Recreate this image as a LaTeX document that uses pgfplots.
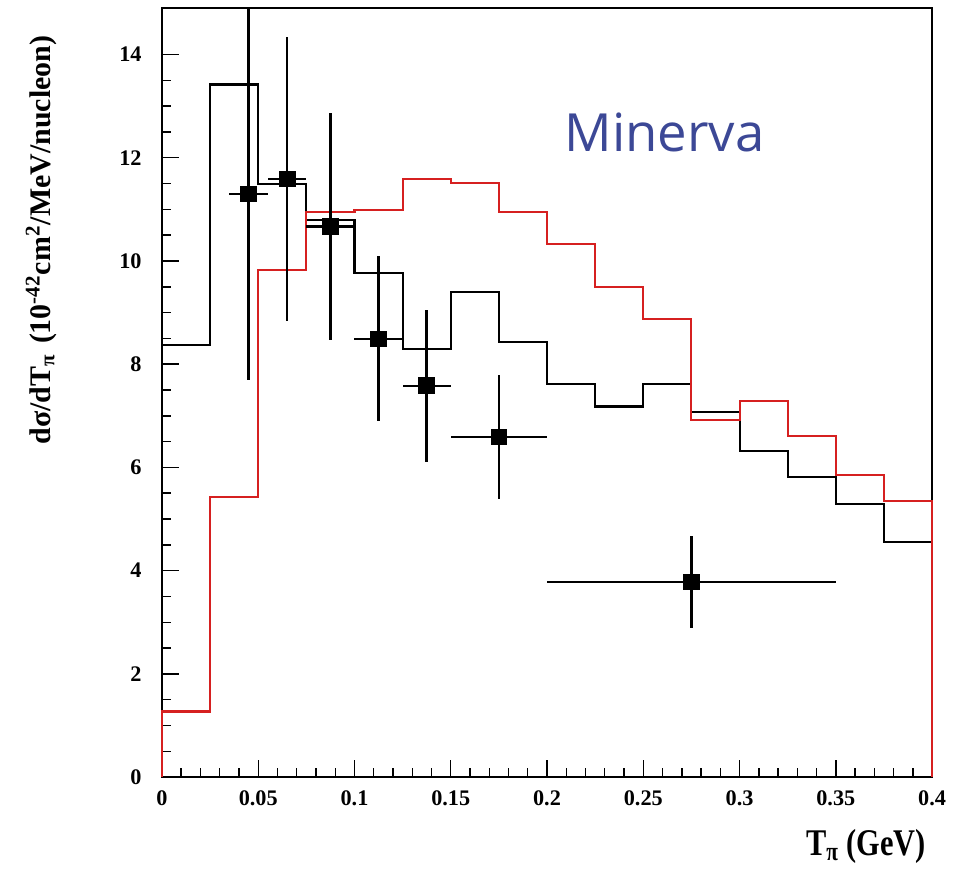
\documentclass[border=0pt]{standalone}
\usepackage{pgfplots}
\pgfplotsset{compat=1.18}
\usepackage{fontspec}
\setmainfont{Liberation Serif}
\newfontfamily\tagfont{Open Sans}
\definecolor{cRed}{RGB}{214,32,32}
\definecolor{cBlue}{RGB}{60,72,150}

\begin{document}
\begin{tikzpicture}
  \begin{axis}[
      scale only axis, width=321.9pt, height=321.4pt,
      xmin=0, xmax=0.4, ymin=0, ymax=14.9,
      xtick={0,0.05,0.1,0.15,0.2,0.25,0.3,0.35,0.4},
      xticklabels={0,0.05,0.1,0.15,0.2,0.25,0.3,0.35,0.4},
      ytick={0,2,4,6,8,10,12,14},
      minor x tick num=4, minor y tick num=3,
      scaled ticks=false,
      xtick pos=bottom, ytick pos=left,
      major tick length=7pt, minor tick length=3.6pt,
      tick style={black, line width=0.6pt},
      axis line style={line width=1pt},
      /pgf/number format/assume math mode=true,
      ticklabel style={font=\bfseries\fontsize{9.3}{11}\selectfont},
      yticklabel style={xshift=-5pt},
      xticklabel style={yshift=-2pt},
      clip=false,
      xlabel={T\textsubscript{π} (GeV)},
      xlabel style={font=\bfseries\fontsize{12.7}{14}\selectfont, yscale=1.24,
                    at={(axis description cs:1,0)}, anchor=base east,
                    yshift=-26.3pt, xshift=1pt},
      ylabel={dσ/dT\textsubscript{π}\,\,(10\textsuperscript{-42}cm\textsuperscript{2}/MeV/nucleon)},
      ylabel style={font=\bfseries\fontsize{12.5}{14}\selectfont,
                    at={(axis description cs:-0.126,0.975)}, anchor=south east},
    ]
    % black histogram
    \addplot[const plot, black, line width=0.85pt] coordinates {
      (0,0) (0,8.38) (0.025,13.42) (0.05,11.5) (0.075,10.8) (0.1,9.77)
      (0.125,8.29) (0.15,9.39) (0.175,8.43) (0.2,7.61) (0.225,7.18)
      (0.25,7.61) (0.275,7.08) (0.3,6.31) (0.325,5.82) (0.35,5.30)
      (0.375,4.55) (0.4,4.55) (0.4,0)};
    % red histogram
    \addplot[const plot, cRed, line width=0.85pt] coordinates {
      (0,0) (0,1.27) (0.025,5.43) (0.05,9.83) (0.075,10.95) (0.1,10.98)
      (0.125,11.58) (0.15,11.51) (0.175,10.95) (0.2,10.33) (0.225,9.49)
      (0.25,8.88) (0.275,6.92) (0.3,7.28) (0.325,6.60) (0.35,5.85)
      (0.375,5.34) (0.4,5.34) (0.4,0)};
    % data
    \addplot[black, only marks, mark=square*, mark size=3.3pt,
      error bars/.cd, x dir=both, x explicit, y dir=both, y explicit,
      error mark=none, error bar style={line width=1pt, black}]
      coordinates {
      (0.045,11.3) +- (0.01,3.6)
      (0.065,11.59) +- (0.01,2.76)
      (0.0875,10.67) +- (0.0125,2.2)
      (0.1125,8.49) +- (0.0125,1.6)
      (0.1375,7.58) +- (0.0125,1.47)
      (0.175,6.59) +- (0.025,1.2)
      (0.275,3.78) +- (0.075,0.89)};
    \node[font=\tagfont\fontsize{22}{24}\selectfont, text=cBlue, anchor=base]
      at (axis cs:0.261,12.12) {Minerva};
  \end{axis}
  \pgfresetboundingbox
  \path (-67.7pt,-38.5pt) rectangle (331.9pt,324.8pt);
\end{tikzpicture}
\end{document}
